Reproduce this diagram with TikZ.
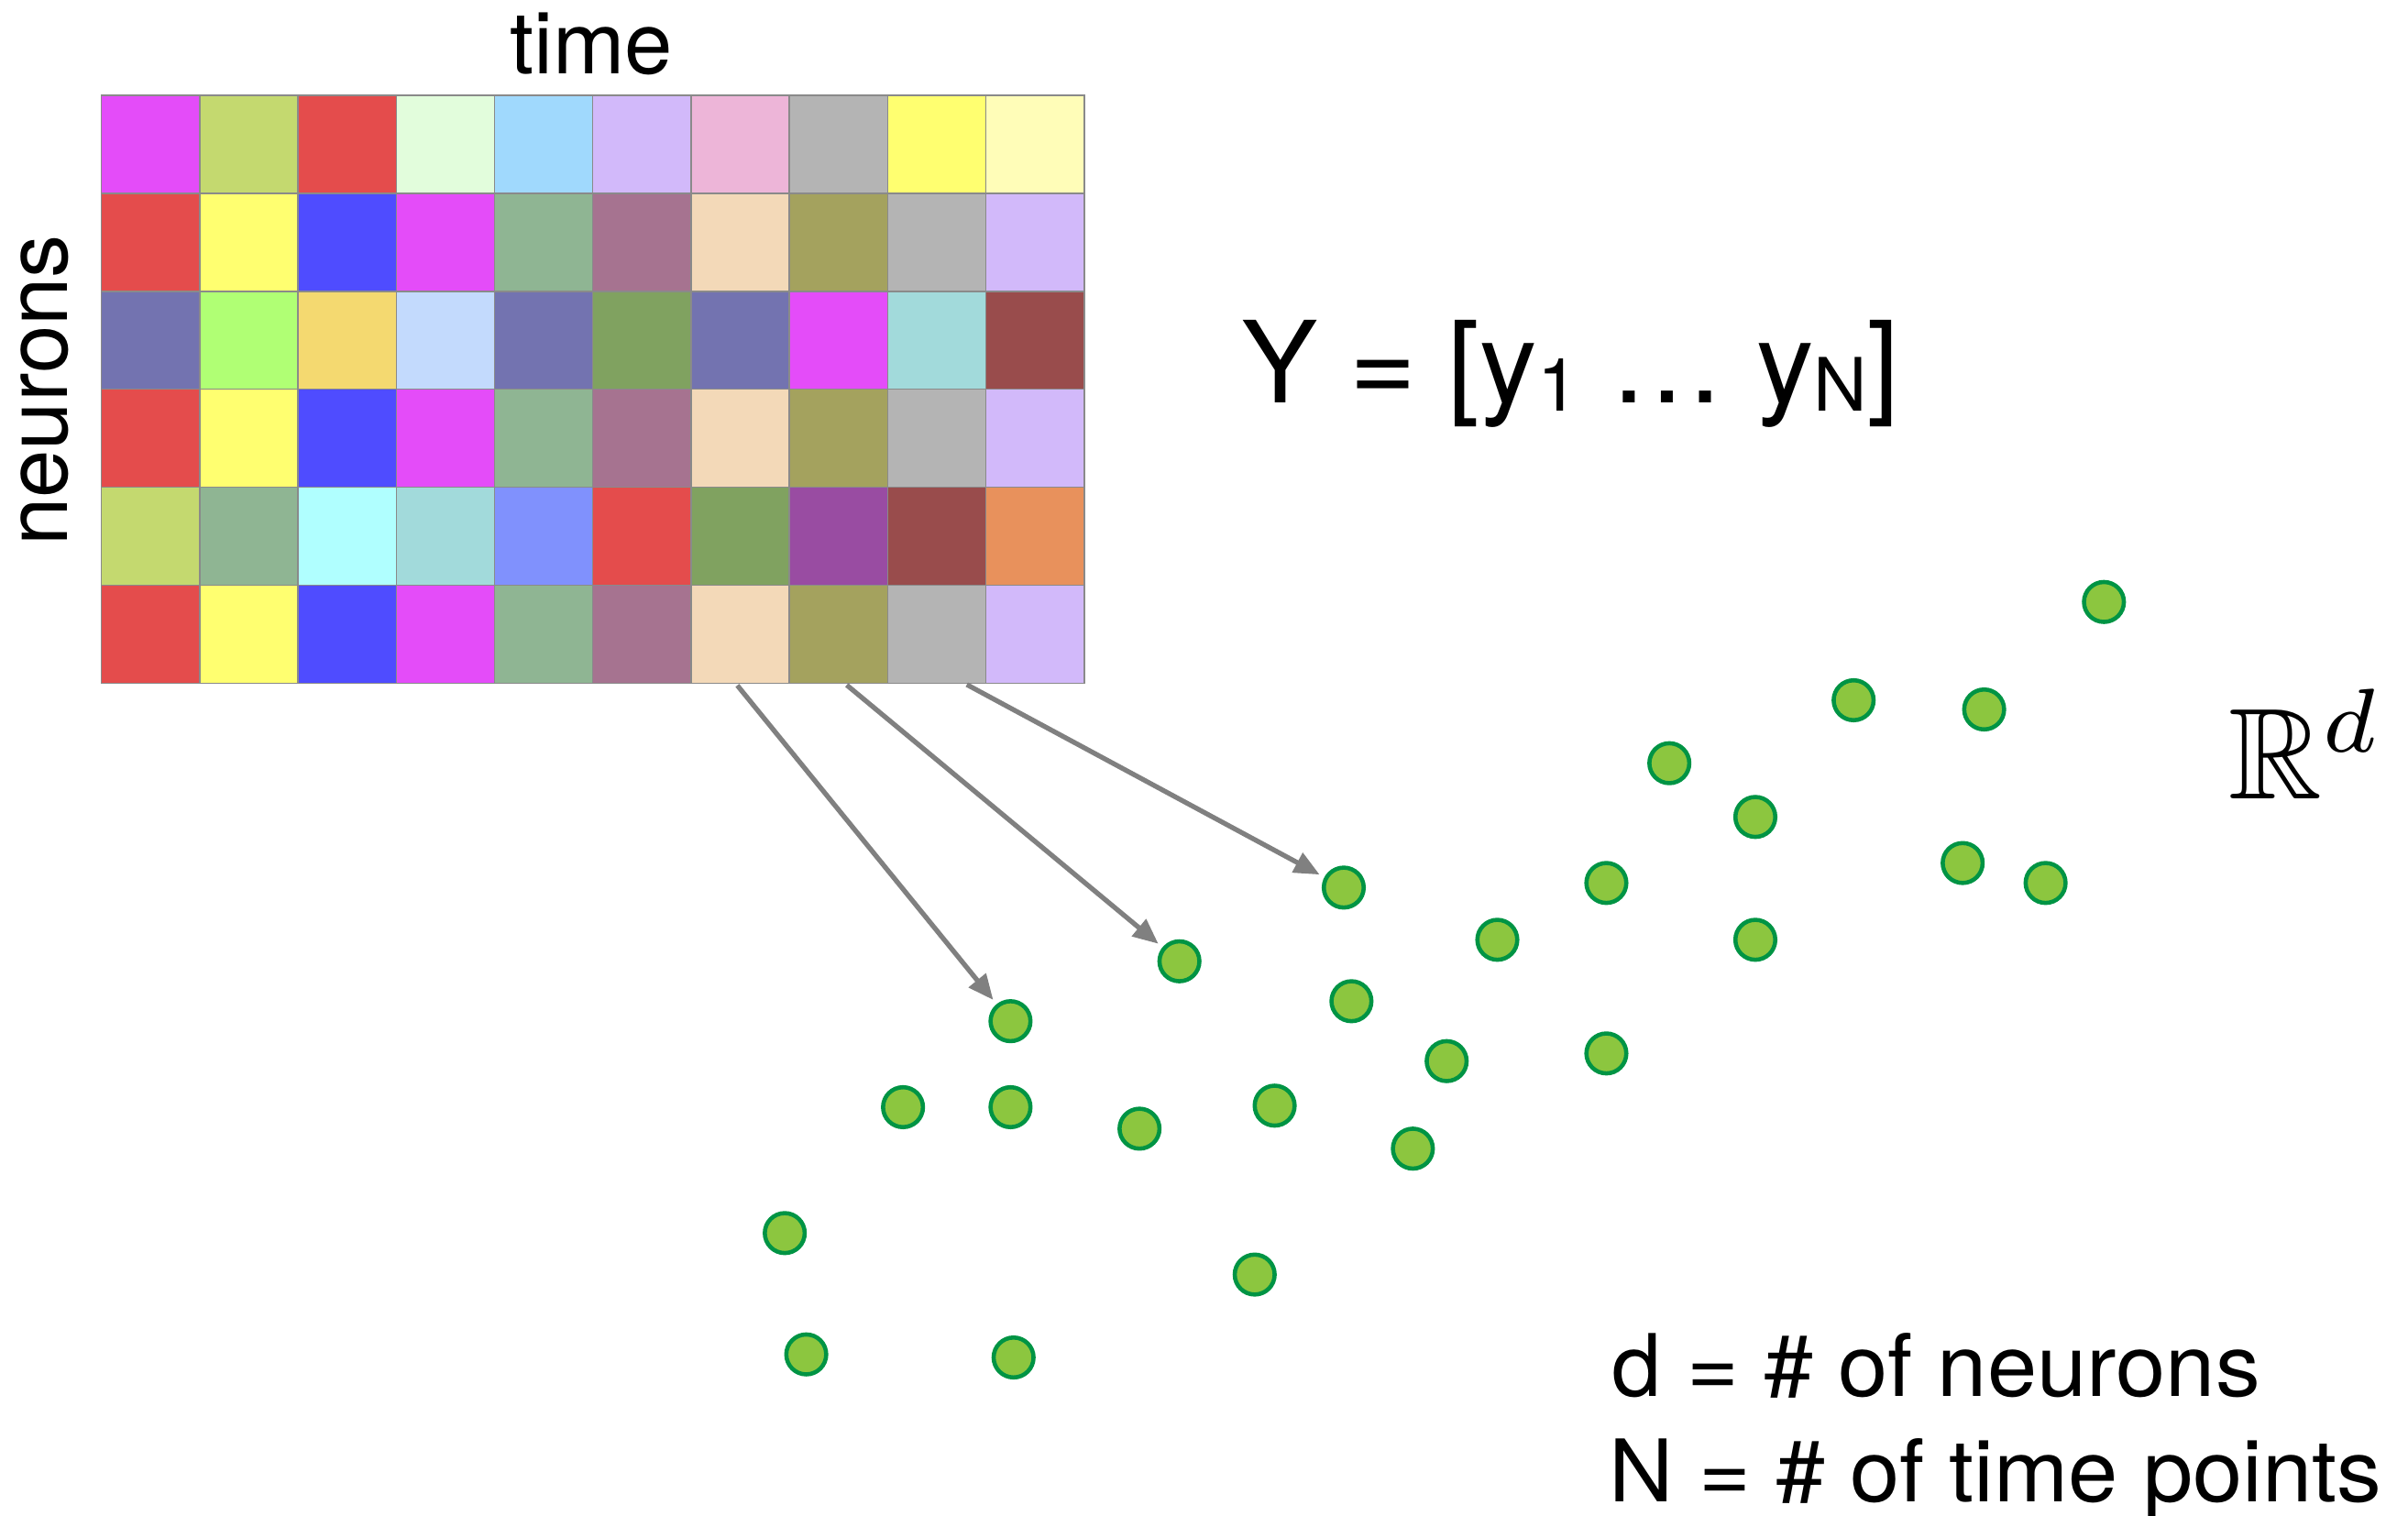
\documentclass[tikz,border=0pt]{standalone}
\usepackage{fontspec}
\setmainfont{TeX Gyre Heros}
\usepackage{amssymb}
\usetikzlibrary{arrows.meta}
\definecolor{cMag}{HTML}{E44CF9}
\definecolor{cYgr}{HTML}{C4D96F}
\definecolor{cRed}{HTML}{E44C4C}
\definecolor{cPgr}{HTML}{E2FDDC}
\definecolor{cLbl}{HTML}{A0D9FD}
\definecolor{cLav}{HTML}{D2B9FA}
\definecolor{cPnk}{HTML}{EDB5D8}
\definecolor{cGry}{HTML}{B4B4B4}
\definecolor{cYel}{HTML}{FFFF70}
\definecolor{cPyl}{HTML}{FFFDB8}
\definecolor{cBlu}{HTML}{4F4CFF}
\definecolor{cSag}{HTML}{8FB593}
\definecolor{cMau}{HTML}{A67390}
\definecolor{cPch}{HTML}{F3D9B8}
\definecolor{cOlv}{HTML}{A4A25E}
\definecolor{cSlt}{HTML}{7373B0}
\definecolor{cLgr}{HTML}{B0FF74}
\definecolor{cGld}{HTML}{F4D970}
\definecolor{cPbl}{HTML}{C3DAFD}
\definecolor{cGrn}{HTML}{80A260}
\definecolor{cTea}{HTML}{A2DADB}
\definecolor{cBrn}{HTML}{994C4C}
\definecolor{cCyn}{HTML}{B0FFFF}
\definecolor{cPer}{HTML}{8091FD}
\definecolor{cPur}{HTML}{994CA2}
\definecolor{cOrg}{HTML}{E8915C}
\definecolor{dotFill}{HTML}{8CC63F}
\definecolor{dotBorder}{HTML}{009444}
\definecolor{arrowGray}{HTML}{808080}
\definecolor{cellBorder}{HTML}{8A8A8A}
\newcommand\sbs[1]{\raisebox{-0.07em}{\scalebox{0.65}{#1}}}
\newcommand\wide[1]{\scalebox{1.035}[1]{#1}}
\begin{document}
\begin{tikzpicture}[x=0.02cm,y=-0.02cm,
  cell/.style={draw=cellBorder, line width=0.5pt, minimum width=1.28cm, minimum height=1.2766cm, inner sep=0, outer sep=0},
  pt/.style={circle, draw=dotBorder, fill=dotFill, line width=1.55pt, minimum size=0.52cm, inner sep=0},
  arr/.style={draw=arrowGray, line width=1.8pt, -{Triangle[length=0.33cm,width=0.28cm]}, shorten >=2pt, shorten <=1pt},
  lab/.style={inner sep=0, font=\fontsize{32}{38}\selectfont}]
\useasboundingbox (0,0) rectangle (1568,987);
% grid of activity
\foreach \r/\cols in {
  1/{cMag,cYgr,cRed,cPgr,cLbl,cLav,cPnk,cGry,cYel,cPyl},
  2/{cRed,cYel,cBlu,cMag,cSag,cMau,cPch,cOlv,cGry,cLav},
  3/{cSlt,cLgr,cGld,cPbl,cSlt,cGrn,cSlt,cMag,cTea,cBrn},
  4/{cRed,cYel,cBlu,cMag,cSag,cMau,cPch,cOlv,cGry,cLav},
  5/{cYgr,cSag,cCyn,cTea,cPer,cRed,cGrn,cPur,cBrn,cOrg},
  6/{cRed,cYel,cBlu,cMag,cSag,cMau,cPch,cOlv,cGry,cLav}}{
  \foreach \c [count=\k] in \cols {
    \node[cell, fill=\c] (c\r-\k) at ({34+64*\k}, {62+63.83*(\r-0.5)}) {};
  }
}
% labels
\node[lab, anchor=base] (time) at (385,47.8) {time};
\node[lab, anchor=base, rotate=90] (neur) at (44,254.3) {neurons};
\node[inner sep=0, anchor=base west, font=\fontsize{42}{50}\selectfont] (Yeq) at (808,262.5) {\scalebox{1.01}[1]{Y = [y\sbs{1} … y\sbs{N}]}};
\node[inner sep=0, anchor=base west] (Rd) at (1451,520.3) {\scalebox{4.8}{$\mathbb{R}^d$}};
\node[lab, anchor=base west] (dl) at (1049.5,909.2) {\wide{d = \# of neurons}};
\node[lab, anchor=base west] (nl) at (1047.5,977.9) {\wide{N = \# of time points}};
% points
\foreach \n/\x/\y in {1/1370/392, 2/1207/456, 3/1292/462, 4/1087/497, 5/1143/532,
  6/1278/562, 7/1332/575, 8/875/578, 9/1046/575, 10/975/612, 11/1143/612,
  12/768/626, 13/880/652, 14/658/665, 15/942/691, 16/1046/686, 17/588/721,
  18/658/721, 19/742/735, 20/830/720, 21/920/748, 22/511/803, 23/817/830,
  24/525/882, 25/660/884}{
  \node[pt] (d\n) at (\x,\y) {};
}
% arrows
\draw[arr] ([xshift=-0.06cm]c6-7.south) -- (d14);
\draw[arr] ([xshift=0.08cm]c6-8.south) -- (d12);
\draw[arr] ([xshift=0.36cm]c6-9.south) -- (d8);
\end{tikzpicture}
\end{document}
